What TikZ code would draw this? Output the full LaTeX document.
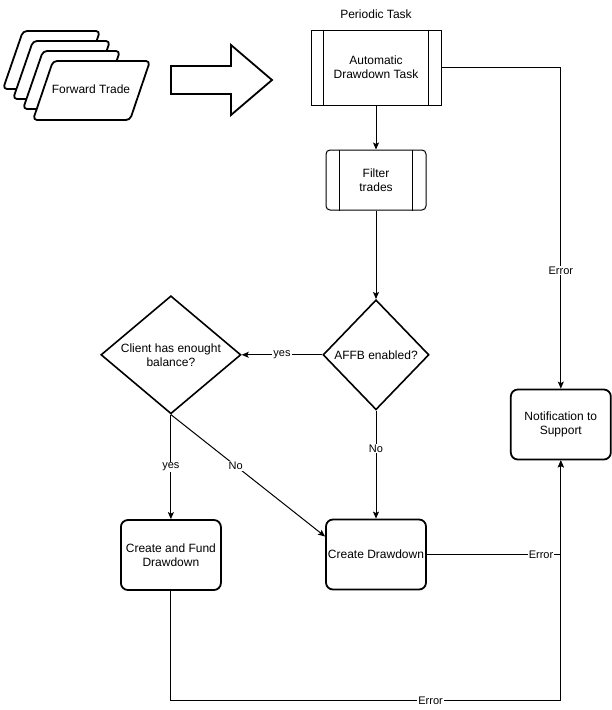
\documentclass[tikz,border=0pt]{standalone}
\usepackage{fontspec}
\setmainfont{Liberation Sans}
\usetikzlibrary{arrows.meta,positioning,shapes.geometric}

\begin{document}
\begin{tikzpicture}[x=1pt,y=-1pt,>={Stealth[length=7pt,width=6pt,inset=1.5pt]},
  base/.style={font=\fontsize{12}{14}\selectfont,align=center,fill=white,inner sep=2pt},
  procbox/.style={base,draw,line width=1pt,minimum width=130pt,minimum height=75pt},
  subbox/.style={base,draw,line width=1pt,rounded corners=4pt,minimum width=100pt,minimum height=60pt},
  stepbox/.style={base,draw,line width=1.8pt,rounded corners=7pt,minimum width=100pt,minimum height=70pt},
  decision/.style={base,draw,diamond,line width=1.6pt,inner sep=0pt},
  card/.style={draw,fill=white,line width=1.8pt,rounded corners=4pt,line join=round},
  bigarrow/.style={draw,fill=white,line width=1.8pt},
  lbl/.style={font=\fontsize{11}{13}\selectfont,fill=white,inner sep=1pt},
  wire/.style={line width=1pt}]
  \useasboundingbox (0,0) rectangle (612,710);

  % stack of trades and the big arrow
  \foreach \k in {0,1,2}
    \draw[card] ({23+10*\k},{31+10*\k}) -- ({100+10*\k},{31+10*\k}) -- ({80+10*\k},{89+10*\k}) -- ({3+10*\k},{89+10*\k}) -- cycle;
  \draw[card] (53,61) -- (150,61) -- (130,120) -- (33,120) -- cycle;
  \node[font=\fontsize{12}{14}\selectfont] (fwd) at (91,89) {Forward Trade};
  \draw[bigarrow] (171,66) -- (231,66) -- (231,45) -- (272,80) -- (231,115) -- (231,94) -- (171,94) -- cycle;

  % flow
  \node[procbox] (auto) at (376,67.5) {Automatic\\Drawdown Task};
  \node[font=\fontsize{12}{14}\selectfont,above=7pt of auto] (ptask) {Periodic Task};
  \node[subbox,below=44pt of auto] (filter) {Filter\\trades};
  \node[decision,aspect=0.96,minimum width=106pt,minimum height=110pt,below=88.5pt of filter] (affb) {AFFB enabled?};
  \node[decision,aspect=1.19,minimum width=140pt,minimum height=118pt,left=80.5pt of affb] (client) {Client has enought\\balance?};
  \node[stepbox,below=108pt of affb] (cd) {Create Drawdown};
  \node[stepbox,below=104.5pt of client] (cf) {Create and Fund\\Drawdown};
  \node[stepbox,right=83pt of cd,yshift=130pt] (notif) {Notification to\\Support};

  \draw[wire] ([xshift=13pt]auto.north west) -- ([xshift=13pt]auto.south west);
  \draw[wire] ([xshift=-13pt]auto.north east) -- ([xshift=-13pt]auto.south east);
  \draw[wire] ([xshift=14pt]filter.north west) -- ([xshift=14pt]filter.south west);
  \draw[wire] ([xshift=-14pt]filter.north east) -- ([xshift=-14pt]filter.south east);

  \draw[wire,->] (auto) -- (filter);
  \draw[wire,->] (filter) -- (affb);
  \draw[wire,->] (affb) -- node[lbl]{yes} (client);
  \draw[wire,->] (affb) -- node[lbl,pos=0.35]{No} (cd);
  \draw[wire,->] (client.south) -- node[lbl]{yes} (cf);
  \draw[wire,->] (client.south) -- node[lbl,pos=0.42]{No} ([yshift=18pt]cd.west);
  \draw[wire,->] (auto.east) -| node[lbl,pos=0.816]{Error} (notif.north);
  \draw[wire,->] (cd.east) -| node[lbl,pos=0.426]{Error} (notif.south);
  \coordinate[below=110pt of cf.south] (low);
  \draw[wire,->] (cf.south) -- (low) -| node[lbl,pos=0.333]{Error} (notif.south);
\end{tikzpicture}
\end{document}
